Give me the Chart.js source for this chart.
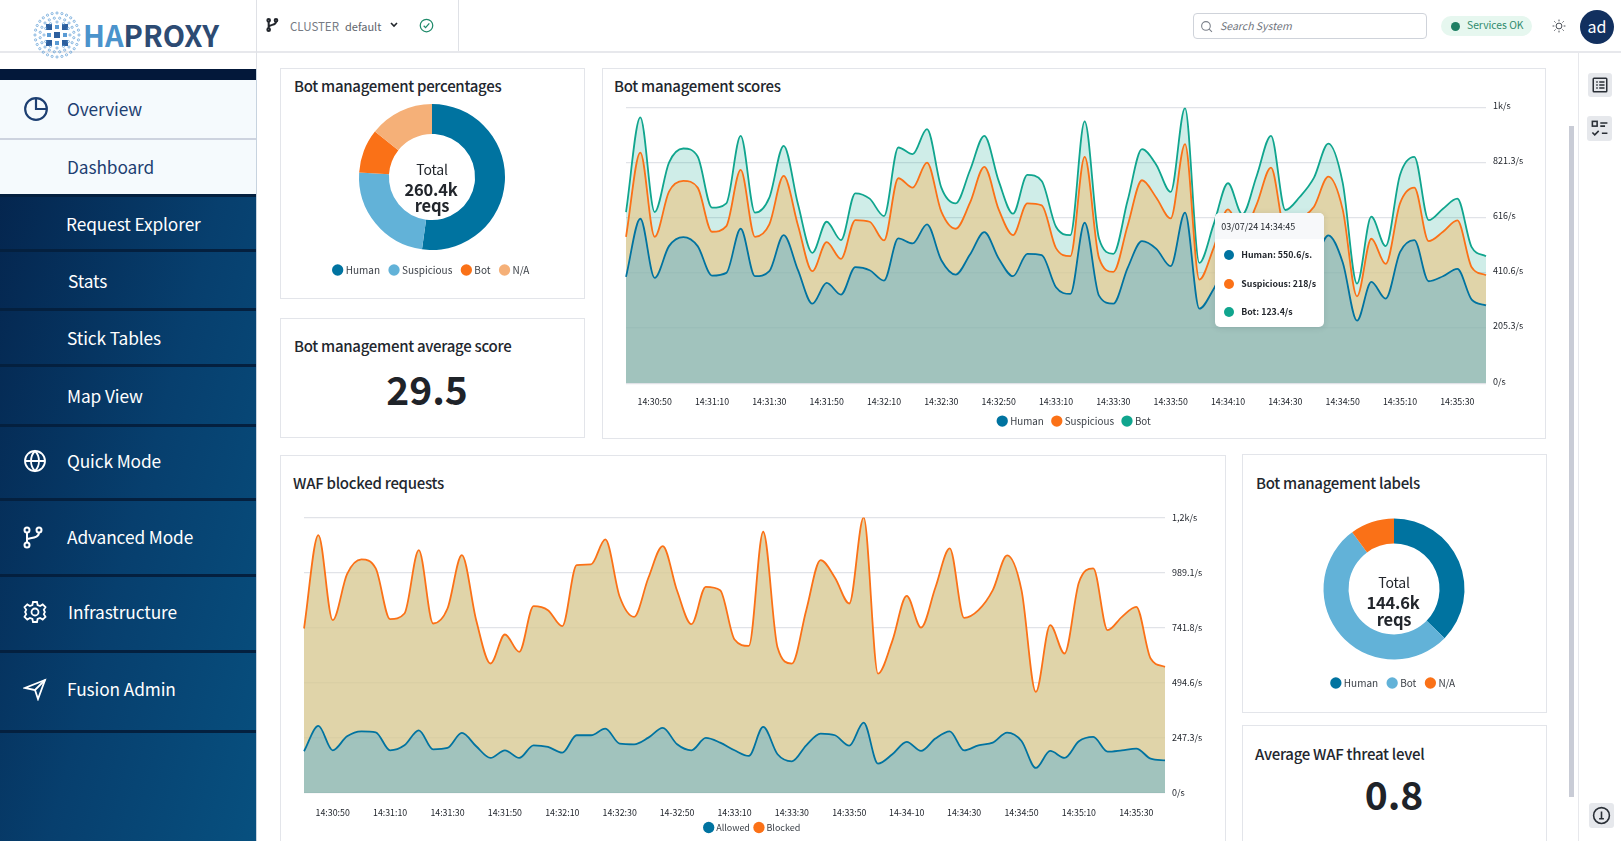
<!DOCTYPE html>
<html>
<head>
<meta charset="utf-8">
<title>HAProxy dashboard</title>
<script src="https://cdn.jsdelivr.net/npm/chart.js@4"></script>
<style>
  * { box-sizing: border-box; }
  html, body { margin: 0; width: 1621px; height: 841px; overflow: hidden; background: #fff; }
  body { position: relative; font-family: "Noto Sans CJK SC", "Noto Sans", sans-serif; color: #22262c; }
  .abs, .card, .row, .txt, canvas { position: absolute; }
  .card { background: #fff; border: 1.5px solid #e3e5ea; }
  .title { position: absolute; font-size: 15px; letter-spacing: -.28px; font-weight: 500; line-height: 20px; white-space: nowrap; color: #23272e; }
  .big { position: absolute; font-size: 39px; font-weight: 700; line-height: 50px; transform: translate(-50%, -50%); color: #1f2329; }
  .center { position: absolute; text-align: center; transform: translateX(-50%); white-space: nowrap; letter-spacing: -.2px; }
  .row { left: 0; width: 256px; }
  .row span { position: absolute; left: 67px; top: calc(50% - 1px); transform: translateY(-50%); font-size: 17.3px; letter-spacing: -.1px; color: #fff; white-space: nowrap; }
  .row svg { position: absolute; left: 23px; top: 50%; transform: translateY(-50%); }
  .sep { position: absolute; left: 0; width: 256px; height: 3px; background: #04203f; }
  #side { position: absolute; left: 0; top: 69px; width: 256px; height: 772px; background: linear-gradient(105deg, #04224a 0%, #073f6e 55%, #07507f 100%); }
  #tip { position: absolute; width: 109px; height: 114px; background: #fff; border-radius: 5px; box-shadow: 0 1px 6px rgba(30,40,60,.12); overflow: hidden; z-index: 5; font-size: 8.8px; font-weight: 700; color: #22262c; }
  #tip .head { height: 26px; line-height: 27px; padding-left: 6px; background: #f7f8fa; font-size: 9px; font-weight: 400; }
  #tip .item { position: absolute; left: 26px; white-space: nowrap; line-height: 14px; }
  #tip i { position: absolute; left: -17px; top: 2px; width: 10px; height: 10px; border-radius: 50%; }
  .btn { position: absolute; background: #e6e8ec; border-radius: 3px; }
</style>
</head>
<body>

<!-- header -->
<div class="abs" style="left:0;top:51px;width:1621px;height:2px;background:#e7e8ec"></div>
<div class="abs" style="left:256px;top:0;width:1px;height:69px;background:#dfe1e6"></div>
<div class="abs" style="left:458px;top:0;width:1px;height:51px;background:#dfe1e6"></div>

<svg class="abs" style="left:33px;top:11px" width="48" height="48" viewBox="0 0 48 48" id="logoMark"></svg>
<div class="abs" style="left:83px;top:12px;font-size:29px;font-weight:700;line-height:44px"><span style="color:#4b93cc">HA</span><span style="color:#2d4b73">PROXY</span></div>

<svg class="abs" style="left:264px;top:17px" width="16" height="16" viewBox="0 0 24 24" fill="none" stroke="#22262c" stroke-width="3"><circle cx="7" cy="5" r="2"/><circle cx="7" cy="19" r="2"/><circle cx="18" cy="5" r="2"/><path d="M7 7v10M18 7c0 5-6 4-11 7"/></svg>
<div class="abs" style="left:290px;top:17px;font-size:11.5px;line-height:18px;color:#767b84">CLUSTER</div>
<div class="abs" style="left:345px;top:17px;font-size:11px;line-height:18px;color:#5e636c">default</div>
<svg class="abs" style="left:389px;top:20px" width="10" height="10" viewBox="0 0 10 10" fill="none" stroke="#22262c" stroke-width="1.6"><path d="M2 3l3 3 3-3"/></svg>
<svg class="abs" style="left:419px;top:18px" width="15" height="15" viewBox="0 0 24 24" fill="none" stroke="#1f8a6a" stroke-width="2"><circle cx="12" cy="12" r="10"/><path d="M7.5 12.5l3 3 6-7"/></svg>

<div class="abs" style="left:1193px;top:13px;width:234px;height:26px;border:1px solid #cfd3da;border-radius:4px"></div>
<svg class="abs" style="left:1200px;top:20px" width="13" height="13" viewBox="0 0 24 24" fill="none" stroke="#7b808a" stroke-width="2"><circle cx="11" cy="11" r="8"/><path d="M17 17l5 5"/></svg>
<div class="abs" style="left:1220px;top:17px;font-size:10.5px;font-style:italic;line-height:18px;color:#6f747d">Search System</div>
<div class="abs" style="left:1441px;top:16px;width:91px;height:20px;border-radius:10px;background:#e6f7ef"></div>
<div class="abs" style="left:1451px;top:22px;width:9px;height:9px;border-radius:50%;background:#1f7f64"></div>
<div class="abs" style="left:1467px;top:16px;font-size:10.3px;line-height:18px;color:#2f8a6c">Services OK</div>
<svg class="abs" style="left:1552px;top:19px" width="14" height="14" viewBox="0 0 24 24" fill="none" stroke="#3a3f47" stroke-width="1.6"><circle cx="12" cy="12" r="5"/><path d="M12 1v3M12 20v3M1 12h3M20 12h3M4 4l2 2M18 18l2 2M4 20l2-2M18 6l2-2"/></svg>
<div class="abs" style="left:1580px;top:10px;width:34px;height:34px;border-radius:50%;background:#12305f;color:#fff;font-size:16px;line-height:33px;text-align:center">ad</div>

<!-- sidebar -->
<div id="side"></div>
<div class="abs" style="left:0;top:69px;width:256px;height:11px;background:#03183a"></div>
<div class="row" style="top:80px;height:58px;background:#f5fafd">
  <svg width="26" height="26" viewBox="0 0 24 24" fill="none" stroke="#1d3f72" stroke-width="2" style="left:23px"><circle cx="12" cy="12" r="10"/><path d="M12 2v10h10"/></svg>
  <span style="color:#1d3f72">Overview</span>
</div>
<div class="abs" style="left:0;top:138px;width:256px;height:2px;background:#cdd3df"></div>
<div class="row" style="top:140px;height:54px;background:#f5fafd"><span style="color:#1d3f72">Dashboard</span></div>
<div class="sep" style="top:194px"></div>
<div class="row" style="top:197px;height:54px"><span style="left:66px">Request Explorer</span></div>
<div class="sep" style="top:249px"></div>
<div class="row" style="top:252px;height:57px"><span style="left:68px">Stats</span></div>
<div class="sep" style="top:308px"></div>
<div class="row" style="top:311px;height:54px"><span>Stick Tables</span></div>
<div class="sep" style="top:364px"></div>
<div class="row" style="top:367px;height:58px"><span>Map View</span></div>
<div class="sep" style="top:424px"></div>
<div class="row" style="top:427px;height:68px">
  <svg width="24" height="24" viewBox="0 0 24 24" fill="none" stroke="#fff" stroke-width="1.8"><circle cx="12" cy="12" r="10"/><path d="M2 12h20M12 2c3 3 4 6.5 4 10s-1 7-4 10c-3-3-4-6.500-4-10s1-7 4-10z"/></svg>
  <span>Quick Mode</span>
</div>
<div class="sep" style="top:498px"></div>
<div class="row" style="top:501px;height:72px">
  <svg width="24" height="24" viewBox="0 0 24 24" fill="none" stroke="#fff" stroke-width="2" style="left:21px"><circle cx="6" cy="5" r="2.500"/><circle cx="6" cy="20" r="2.500"/><circle cx="18" cy="5" r="2.500"/><path d="M6 7.500v10M18 7.500c0 5-6 5-12 6.500"/></svg>
  <span>Advanced Mode</span>
</div>
<div class="sep" style="top:574px"></div>
<div class="row" style="top:577px;height:70px">
  <svg width="24" height="24" viewBox="0 0 24 24" fill="none" stroke="#fff" stroke-width="1.8"><circle cx="12" cy="12" r="3.500"/><path d="M10 2h4l.6 3 2.500 1.100 2.600-1.700 2.800 2.800-1.700 2.600L21.900 12l-1.100 2.200 1.700 2.600-2.800 2.800-2.600-1.700-2.500 1.100-.6 3h-4l-.6-3-2.500-1.100-2.600 1.700-2.800-2.800 1.700-2.600L2.100 12l1.100-2.200-1.700-2.600 2.800-2.800 2.600 1.700 2.500-1.100z"/></svg>
  <span style="left:68px">Infrastructure</span>
</div>
<div class="sep" style="top:650px"></div>
<div class="row" style="top:653px;height:72px">
  <svg width="24" height="24" viewBox="0 0 24 24" fill="none" stroke="#fff" stroke-width="1.8"><path d="M22 3L2 11l10 2 3 9z"/><path d="M22 3L12 13"/></svg>
  <span>Fusion Admin</span>
</div>
<div class="sep" style="top:730px"></div>
<div class="abs" style="left:256px;top:69px;width:1px;height:772px;background:#c7d3df"></div>

<!-- right rail -->
<div class="abs" style="left:1578px;top:52px;width:1px;height:789px;background:#e7e8ec"></div>
<div class="abs" style="left:1569px;top:126px;width:5px;height:671px;background:#c9ccd6"></div>
<div class="btn" style="left:1588px;top:73px;width:24px;height:24px"><svg style="position:absolute;left:3px;top:3px" width="18" height="18" viewBox="0 0 24 24" fill="none" stroke="#2a2f36" stroke-width="2"><rect x="3" y="3" width="18" height="18" rx="1"/><path d="M7 8h2M11 8h7M7 12h2M11 12h7M7 16h2M11 16h7"/></svg></div>
<div class="btn" style="left:1587px;top:116px;width:25px;height:25px"><svg style="position:absolute;left:3px;top:3px" width="19" height="19" viewBox="0 0 24 24" fill="none" stroke="#2a2f36" stroke-width="2"><rect x="3" y="3" width="6" height="6"/><path d="M13 5h9M13 9h6M3 17l3 3 5-5M15 18h7"/></svg></div>
<div class="btn" style="left:1589px;top:803px;width:25px;height:25px"><svg style="position:absolute;left:3px;top:3px" width="19" height="19" viewBox="0 0 24 24" fill="none" stroke="#2a2f36" stroke-width="2"><circle cx="12" cy="12" r="10"/><path d="M12 7v10M9 16h6"/></svg></div>

<!-- cards -->
<div class="card" style="left:280px;top:68px;width:305px;height:231px"></div>
<div class="card" style="left:280px;top:318px;width:305px;height:120px"></div>
<div class="card" style="left:602px;top:68px;width:944px;height:371px"></div>
<div class="card" style="left:280px;top:455px;width:946px;height:420px"></div>
<div class="card" style="left:1242px;top:454px;width:305px;height:259px"></div>
<div class="card" style="left:1242px;top:725px;width:305px;height:150px"></div>

<div class="title" style="left:294px;top:76px">Bot management percentages</div>
<div class="title" style="left:294px;top:336px">Bot management average score</div>
<div class="title" style="left:614px;top:76px">Bot management scores</div>
<div class="title" style="left:293px;top:473px">WAF blocked requests</div>
<div class="title" style="left:1256px;top:473px">Bot management labels</div>
<div class="title" style="left:1255px;top:744px">Average WAF threat level</div>

<div class="big" style="left:427px;top:388px">29.5</div>
<div class="big" style="left:1394px;top:793px">0.8</div>

<canvas id="percentChart" width="284" height="185" style="left:290px;top:100px"></canvas>
<canvas id="scoresChart" width="926" height="341" style="left:612px;top:95px"></canvas>
<canvas id="wafChart" width="934" height="337" style="left:286px;top:505px"></canvas>
<canvas id="labelsChart" width="284" height="187" style="left:1252px;top:511px"></canvas>

<div class="center" style="left:432px;top:160px;font-size:14px;line-height:18px">Total</div>
<div class="center" style="left:431px;top:179px;font-size:16.5px;font-weight:700;line-height:21px">260.4k</div>
<div class="center" style="left:432px;top:195px;font-size:16.5px;font-weight:700;line-height:21px">reqs</div>
<div class="center" style="left:1394px;top:573px;font-size:14px;line-height:18px">Total</div>
<div class="center" style="left:1393px;top:592px;font-size:16.5px;font-weight:700;line-height:21px">144.6k</div>
<div class="center" style="left:1394px;top:609px;font-size:16.5px;font-weight:700;line-height:21px">reqs</div>

<div id="tip">
  <div class="head" id="tipHead"></div>
</div>

<script>
const FONT = '"Noto Sans CJK SC", "Noto Sans", sans-serif';
const TEXT_COLOR = '#23272e';
const GRID_COLOR = '#e1e3e8';

// doughnuts (k reqs)
const percentLabels = ['Human', 'Suspicious', 'Bot', 'N/A'];
const percentValues = [135.9, 62, 25.3, 37.2];
const percentColors = ['#0073a0', '#62b2d8', '#fa7117', '#f5b078'];

const labelsLabels = ['Human', 'Bot', 'N/A'];
const labelsValues = [53.9, 76.1, 14.6];
const labelsColors = ['#0073a0', '#62b2d8', '#fa7117'];

// Bot management scores, one value every 5s from 14:30:40
const humanScores = [395.7, 612.2, 392, 510.2, 543.8, 510.2, 400.7, 410.7, 574.9, 398.2, 416.9, 551.3, 420.6, 296.2, 373.3, 329.8, 431.8, 420.6, 382, 538.8, 520.2, 591.1, 457.9, 404.4, 479.1, 562.5, 464.2, 398.2, 481.6, 476.6, 357.1, 332.3, 597.3, 326, 296.2, 429.3, 528.9, 500.2, 435.5, 634.6, 277.5, 350.9, 448, 398.2, 454.2, 535.1, 392, 410.6, 448, 550.6, 450.5, 232.7, 377.1, 314.8, 487.8, 532.6, 379.5, 398.2, 425.6, 311.1, 289.9];
const suspiciousScores = [149.3, 246.4, 153.1, 202.8, 209.1, 217.8, 163, 174.2, 219, 146.8, 174.2, 220.3, 166.8, 120.7, 151.8, 133.2, 175.5, 180.4, 149.3, 224, 207.8, 230.2, 180.4, 170.5, 192.9, 242.7, 182.9, 153.1, 187.9, 185.4, 145.6, 140.6, 245.1, 140.6, 118.2, 158, 226.5, 190.4, 178, 255.1, 108.3, 153.1, 199.1, 161.8, 211.5, 267.5, 178, 199.1, 209, 218, 196.6, 90.8, 160.5, 129.4, 181.7, 195.4, 149.3, 165.5, 180.4, 120.7, 112];
const botScores = [92.1, 130.7, 92.1, 108.3, 120.7, 115.7, 89.6, 84.6, 126.9, 89.6, 99.6, 112, 78.4, 68.4, 75.9, 69.7, 99.6, 85.9, 90.8, 114.5, 124.4, 124.4, 89.6, 94.6, 120.7, 115.7, 105.8, 79.6, 105.8, 90.8, 79.6, 78.4, 131.9, 72.2, 67.2, 93.3, 115.7, 122, 98.3, 134.4, 62.2, 87.1, 97.1, 68.4, 105.8, 118.2, 74.7, 83.4, 108.3, 123.4, 99.6, 47.3, 82.1, 66, 105.8, 114.5, 78.4, 85.9, 80.9, 74.7, 70.9];
const scoreYValues = [0, 205.3, 410.6, 616, 821.3, 1026.6];
const scoreYLabels = ['0/s', '205.3/s', '410.6/s', '616/s', '821.3/s', '1k/s'];
const scoreXLabels = ['14:30:50', '14:31:10', '14:31:30', '14:31:50', '14:32:10', '14:32:30', '14:32:50', '14:33:10', '14:33:30', '14:33:50', '14:34:10', '14:34:30', '14:34:50', '14:35:10', '14:35:30'];

// WAF blocked requests
const allowedRequests = [187.1, 300.9, 191.6, 254.5, 276.9, 272.5, 191.6, 214.1, 281.4, 196.1, 202.1, 269.5, 209.6, 157.2, 191.6, 157.2, 214.1, 206.6, 181.1, 259, 259, 288.9, 221.6, 218.6, 248.5, 291.9, 218.6, 191.6, 247, 226, 191.6, 166.2, 296.4, 173.7, 142.2, 214.1, 266.5, 259, 212.6, 315.9, 131.7, 173.7, 229, 188.6, 244, 276.9, 191.6, 214.1, 226, 271, 233.5, 112.3, 188.6, 157.2, 232, 251.5, 185.6, 191.6, 199.1, 154.2, 146.7];
const blockedRequests = [550.9, 856.3, 583.8, 727.5, 771, 735, 588.3, 591.3, 808.4, 564.4, 625.7, 797.9, 565.9, 423.7, 519.5, 476, 624.2, 613.8, 567.4, 763.5, 766.5, 848.8, 658.7, 571.9, 717.1, 815.9, 688.6, 565.9, 678.1, 684.1, 497, 494, 875.7, 479, 438.6, 606.3, 778.4, 706.6, 637.7, 920.6, 404.2, 509, 655.7, 553.9, 678.1, 820.4, 594.3, 606.3, 684.1, 794.9, 676.6, 341.3, 564.4, 468.6, 712.6, 756, 544.9, 598.8, 636.2, 449.1, 419.2];
const wafYValues = [0, 247.3, 494.6, 741.8, 989.1, 1236.5];
const wafYLabels = ['0/s', '247.3/s', '494.6/s', '741.8/s', '989.1/s', '1,2k/s'];
const wafXLabels = ['14:30:50', '14:31:10', '14:31:30', '14:31:50', '14:32:10', '14:32:30', '14-32:50', '14:33:10', '14:33:30', '14:33:50', '14-34-10', '14:34:30', '14:34:50', '14:35:10', '14:35:30'];

// tooltip shown on the scores chart
const tipIndex = 49;
const tipTitle = '03/07/24 14:34:45';
const tipLines = ['Human: 550.6/s.', 'Suspicious: 218/s', 'Bot: 123.4/s'];
const tipColors = ['#0073a0', '#fb7117', '#10a58e'];

// x categories, 5s apart
const timeCategories = [];
for (let s = 0; s <= 300; s += 5) {
    const t = 14 * 3600 + 30 * 60 + 40 + s;
    const p = n => String(n).padStart(2, '0');
    timeCategories.push(p(Math.floor(t / 3600)) + ':' + p(Math.floor(t / 60) % 60) + ':' + p(t % 60));
}

Chart.defaults.font.family = FONT;
Chart.defaults.animation = false;
Chart.defaults.responsive = false;
Chart.defaults.events = [];

function circleLegend(padding, fontSize) {
    return {
        position: 'bottom',
        labels: {
            usePointStyle: true,
            boxWidth: 6,
            boxHeight: 8,
            padding: padding,
            color: '#3c4148',
            font: { size: fontSize },
        },
    };
}

function makeDoughnut(id, labels, values, colors, radius, cutout) {
    return new Chart(document.getElementById(id), {
        type: 'doughnut',
        data: {
            labels: labels,
            datasets: [{ data: values, backgroundColor: colors, borderWidth: 0, radius: radius }],
        },
        options: {
            cutout: cutout,
            layout: { autoPadding: false },
            plugins: { legend: circleLegend(11, 10), tooltip: { enabled: false } },
        },
    });
}

// keep the legend centred on the canvas, not on the padded area
const legendCentre = {
    id: 'legendCentre',
    afterLayout(chart) {
        chart.legend.left = 0;
    },
};

// dashed line and dots for the hovered point
const crosshair = {
    id: 'crosshair',
    afterDatasetsDraw(chart) {
        const active = chart.getActiveElements();
        if (!active.length) return;
        const ctx = chart.ctx;
        const x = active[0].element.x;
        ctx.save();
        ctx.strokeStyle = '#c3c6cd';
        ctx.lineWidth = 1;
        ctx.setLineDash([3, 3]);
        ctx.beginPath();
        ctx.moveTo(x, chart.chartArea.top);
        ctx.lineTo(x, chart.chartArea.bottom);
        ctx.stroke();
        ctx.restore();
        active.forEach(a => a.element.draw(ctx));
    },
};

function areaDataset(label, values, line, fillColor, fill) {
    return {
        label: label,
        data: values,
        borderColor: line,
        backgroundColor: fillColor,
        borderWidth: 1.8,
        fill: fill,
        pointRadius: 0,
        pointHoverRadius: 4.5,
        pointHoverBorderWidth: 1.2,
        pointHoverBorderColor: '#fff',
        pointHoverBackgroundColor: line,
        cubicInterpolationMode: 'monotone',
    };
}

function makeStacked(id, datasets, xLabels, yValues, yLabels, box, plugins) {
    const legend = circleLegend(box.legendPad, box.legendFont);
    legend.labels.generateLabels = chart => chart.data.datasets.map((d, i) => ({
        text: d.label,
        fillStyle: d.borderColor,
        strokeStyle: d.borderColor,
        fontColor: '#3c4148',
        lineWidth: 0,
        pointStyle: 'circle',
        datasetIndex: i,
    }));
    return new Chart(document.getElementById(id), {
        type: 'line',
        data: { labels: timeCategories, datasets: datasets },
        plugins: [legendCentre].concat(plugins),
        options: {
            layout: { padding: { left: box.left, top: box.top }, autoPadding: false },
            plugins: { legend: legend, tooltip: { enabled: false } },
            scales: {
                x: {
                    grid: { display: false, drawTicks: false },
                    border: { display: false },
                    afterFit: s => { s.height = box.xHeight; },
                    ticks: {
                        autoSkip: false,
                        maxRotation: 0,
                        padding: box.xPad,
                        color: TEXT_COLOR,
                        font: { size: 8.8 },
                        callback: (v, i) => (i % 4 === 2 ? xLabels[(i - 2) / 4] : ''),
                    },
                },
                y: {
                    stacked: true,
                    position: 'right',
                    min: 0,
                    max: yValues[yValues.length - 1],
                    grid: { color: GRID_COLOR, drawTicks: false, lineWidth: 1.2 },
                    border: { display: false },
                    afterBuildTicks: s => { s.ticks = yValues.map(v => ({ value: v })); },
                    afterFit: s => { s.width = box.yWidth; },
                    ticks: {
                        padding: 7,
                        labelOffset: box.yOffset,
                        color: TEXT_COLOR,
                        font: { size: 9 },
                        callback: (v, i) => yLabels[i],
                    },
                },
            },
        },
    });
}

makeDoughnut('percentChart', percentLabels, percentValues, percentColors, 73, '59%');
makeDoughnut('labelsChart', labelsLabels, labelsValues, labelsColors, 70.5, '64.5%');

const scoresChart = makeStacked('scoresChart', [
    areaDataset('Human', humanScores, '#0073a0', 'rgba(137,180,172,.8)', 'origin'),
    areaDataset('Suspicious', suspiciousScores, '#fb7117', 'rgba(216,201,148,.8)', '-1'),
    areaDataset('Bot', botScores, '#10a58e', 'rgba(16,165,142,.2)', '-1'),
], scoreXLabels, scoreYValues, scoreYLabels,
    { left: 14, top: 8, yWidth: 52, yOffset: -2, xHeight: 23, xPad: 13, legendPad: 10, legendFont: 9.8 }, [crosshair]);

makeStacked('wafChart', [
    areaDataset('Allowed', allowedRequests, '#0073a0', 'rgba(137,180,172,.8)', 'origin'),
    areaDataset('Blocked', blockedRequests, '#fb7117', 'rgba(216,201,148,.8)', '-1'),
], wafXLabels, wafYValues, wafYLabels,
    { left: 18, top: 7, yWidth: 55, yOffset: 0, xHeight: 24, xPad: 14, legendPad: 6, legendFont: 9 }, []);

// active point on the scores chart, with its tooltip box
scoresChart.setActiveElements([0, 1, 2].map(i => ({ datasetIndex: i, index: tipIndex })));

const tip = document.getElementById('tip');
const pointX = scoresChart.getDatasetMeta(0).data[tipIndex].x;
tip.style.left = (612 + pointX - 113) + 'px';
tip.style.top = '213px';
document.getElementById('tipHead').textContent = tipTitle;
tipLines.forEach((line, i) => {
    const item = document.createElement('div');
    item.className = 'item';
    item.style.top = (35 + i * 28.5) + 'px';
    item.innerHTML = '<i style="background:' + tipColors[i] + '"></i>' + line;
    tip.appendChild(item);
});

// logo mark: squares in the middle, ring of small dots round it
const logo = document.getElementById('logoMark');
let marks = '';
[[-8, -8], [8, -8], [0, 0], [-8, 8], [8, 8]].forEach(p => {
    marks += '<rect x="' + (21 + p[0]) + '" y="' + (21 + p[1]) + '" width="6" height="6" fill="#2d5f9e"/>';
});
[[0, -8], [-8, 0], [8, 0], [0, 8]].forEach(p => {
    marks += '<rect x="' + (22 + p[0]) + '" y="' + (22 + p[1]) + '" width="4" height="4" fill="#5a9bd4"/>';
});
[22, 17, 13].forEach((r, k) => {
    const n = [28, 20, 12][k];
    for (let i = 0; i < n; i++) {
        const a = (i + k / 2) / n * Math.PI * 2;
        marks += '<circle cx="' + (24 + r * Math.cos(a)).toFixed(1) + '" cy="' + (24 + r * Math.sin(a)).toFixed(1) + '" r="1.1" fill="none" stroke="#5a9bd4" stroke-width=".7"/>';
    }
});
logo.innerHTML = marks;
</script>
</body>
</html>
